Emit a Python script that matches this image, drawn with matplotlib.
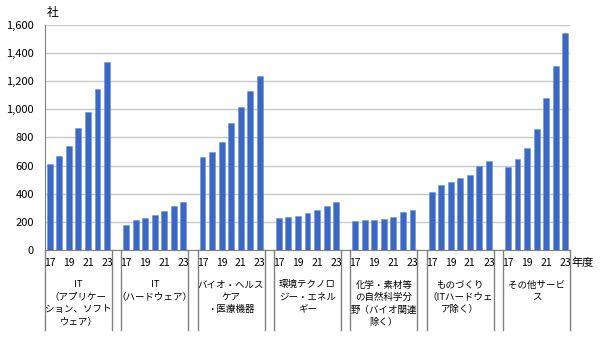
import numpy as np
import matplotlib.pyplot as plt
import matplotlib.transforms as mtransforms

plt.rcParams['font.family'] = ['Noto Sans CJK JP', 'DejaVu Sans']

# data: number of companies by field, FY2017-2023
years = ['17', '18', '19', '20', '21', '22', '23']
groups = ['IT\n（アプリケー\nション、ソフト\nウェア）',
          'IT\n（ハードウェア）',
          'バイオ・ヘルス\nケア\n・医療機器',
          '環境テクノロ\nジー・エネル\nギー',
          '化学・素材等\nの自然科学分\n野（バイオ関連\n除く）',
          'ものづくり\n（ITハードウェ\nア除く）',
          'その他サービ\nス']
it_app = [611, 670, 736, 869, 980, 1146, 1340]
it_hw = [180, 215, 227, 246, 275, 312, 343]
bio = [658, 700, 767, 906, 1020, 1127, 1240]
env = [225, 232, 239, 263, 286, 312, 343]
chem = [206, 213, 213, 220, 234, 267, 282]
mono = [412, 459, 483, 511, 530, 599, 634]
other = [587, 646, 724, 862, 1084, 1309, 1543]
series = [it_app, it_hw, bio, env, chem, mono, other]

fig = plt.figure(figsize=(6, 3.52), dpi=100)
ax = fig.add_axes([0.075, 0.29, 0.875, 0.639])

n = len(years)
step = n + 1  # one empty slot between groups
for g, vals in enumerate(series):
    x = g * step + np.arange(n)
    ax.bar(x, vals, width=0.62, color='#3a68c4', edgecolor='#6f93d8',
           linewidth=0.4, zorder=3)

total = len(series) * step - 1
ax.set_xlim(-0.5, total - 0.5)
ax.set_ylim(0, 1600)
ax.set_yticks(np.arange(0, 1601, 200))
ax.set_yticklabels([f'{v:,}' for v in range(0, 1601, 200)], fontsize=8)
ax.yaxis.grid(True, color='#c8c8c8', linewidth=1, zorder=0)
ax.tick_params(axis='y', length=0, pad=8)
ax.tick_params(axis='x', length=0)
ax.set_xticks([])
for s in ['top', 'right']:
    ax.spines[s].set_visible(False)
ax.spines['left'].set_color('#808080')
ax.spines['bottom'].set_color('#808080')

trans = mtransforms.blended_transform_factory(ax.transData, ax.transAxes)

# year labels and group labels
for g in range(len(series)):
    x0 = g * step
    for i in range(0, n, 2):
        ax.text(x0 + i, -0.035, years[i], transform=trans, ha='center',
                va='top', fontsize=7.5)
    ax.text(x0 + (n - 1) / 2, -0.135, groups[g], transform=trans,
            ha='center', va='top', fontsize=6.8, linespacing=1.45)
    for xb in (x0 - 0.5, x0 + n - 0.5):
        ax.plot([xb, xb], [0, -0.355], transform=trans, color='#808080',
                linewidth=1, clip_on=False)

ax.text(total - 0.3, -0.035, '年度', transform=trans, ha='left', va='top',
        fontsize=8)
fig.text(0.078, 0.965, '社', ha='left', va='center', fontsize=8.5)

fig.savefig('out.png', dpi=100)
